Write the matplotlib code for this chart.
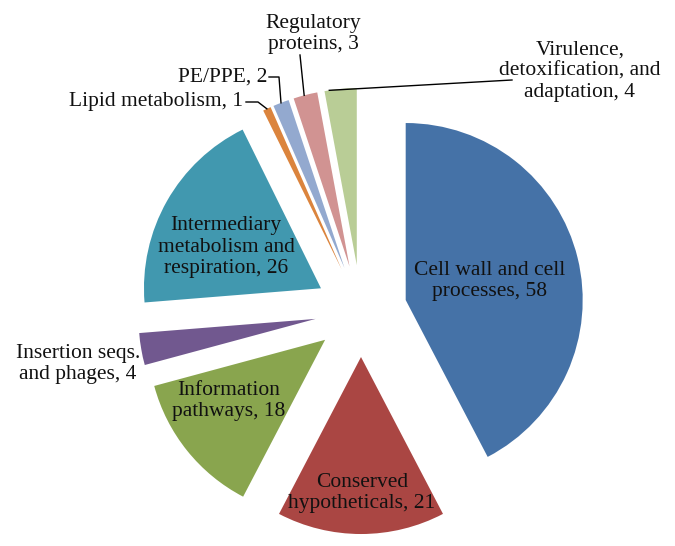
import numpy as np
import matplotlib
matplotlib.use("Agg")
import matplotlib.pyplot as plt

# data: gene categories, clockwise from 12 o'clock
categories = ["Cell wall and cell\nprocesses", "Conserved\nhypotheticals",
              "Information\npathways", "Insertion seqs.\nand phages",
              "Intermediary\nmetabolism and\nrespiration", "Lipid metabolism",
              "PE/PPE", "Regulatory\nproteins",
              "Virulence,\ndetoxification, and\nadaptation"]
counts = [58, 21, 18, 4, 26, 1, 2, 3, 4]
colors = ["#4572A7", "#AA4643", "#89A54E", "#71588F", "#4198AF",
          "#DB843D", "#93A9CF", "#D19392", "#B9CD96"]

plt.rcParams['font.family'] = ['Liberation Serif', 'DejaVu Serif']

W, H = 675, 546
cx, cy, R = 361, 311, 177   # pie centre / radius in pixels

def to_data(px, py):
    return (px - cx) / R, (cy - py) / R

fig = plt.figure(figsize=(W / 100, H / 100), dpi=100)
ax = fig.add_axes([0, 0, 1, 1])
wedges, _ = ax.pie(counts, colors=colors, startangle=90, counterclock=False,
                   explode=[0.26] * len(counts), radius=1,
                   wedgeprops=dict(linewidth=0))
ax.set_xlim(-cx / R, (W - cx) / R)
ax.set_ylim(-(H - cy) / R, cy / R)
ax.set_aspect('equal')
ax.axis('off')

labels = ["%s, %d" % (c, n) for c, n in zip(categories, counts)]

# label anchor (pixels) and alignment
pos = [(490, 281, 'center'), (362, 493, 'center'), (229, 401, 'center'),
       (78, 364, 'center'), (226, 247, 'center'), (243, 102, 'right'),
       (267, 77, 'right'), (313, 34, 'center'), (580, 71, 'center')]
fs = 15.5
for lab, (px, py, ha) in zip(labels, pos):
    x, y = to_data(px, py)
    ax.text(x, y, lab, ha=ha, va='center', fontsize=fs, color='#111111',
            linespacing=1.15)

def outer_point(w, frac):
    ang = np.deg2rad(w.theta1 + frac * (w.theta2 - w.theta1))
    return w.center[0] + w.r * np.cos(ang), w.center[1] + w.r * np.sin(ang)

# leader lines: (start pixels, elbow pixels, wedge index, position on arc)
leaders = [((246, 102), (258, 102), 5, 0.5),
           ((269, 77), (279, 77), 6, 0.5),
           ((300, 55), None, 7, 0.55),
           ((512, 80), None, 8, 0.85)]
for start, elbow, wi, frac in leaders:
    pts = [to_data(*start)]
    if elbow:
        pts.append(to_data(*elbow))
    pts.append(outer_point(wedges[wi], frac))
    xs, ys = zip(*pts)
    ax.plot(xs, ys, color='black', lw=1)

fig.savefig("out.png", dpi=100)
